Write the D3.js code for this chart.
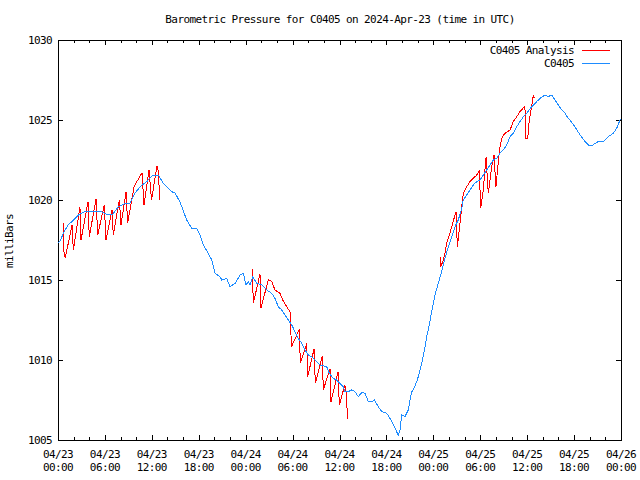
<!DOCTYPE html>
<html>
<head>
<meta charset="utf-8">
<script src="https://cdn.jsdelivr.net/npm/d3@7"></script>
<style>
  html, body { margin: 0; padding: 0; background: #fff; }
  svg { display: block; }
  text { font-family: "DejaVu Sans Mono", "Liberation Mono", monospace; font-size: 11px; letter-spacing: -0.6px; fill: #000; }
</style>
</head>
<body>
<svg id="chart" width="640" height="480"></svg>
<script>
// ---- data (hours after 2024-04-23 00:00 UTC, pressure in mb) ----
const titleText = "Barometric Pressure for C0405 on 2024-Apr-23 (time in UTC)";
const yLabel = "milliBars";
const seriesNames = ["C0405 Analysis", "C0405"];
const yTickValues = [1005, 1010, 1015, 1020, 1025, 1030];

const blueHours = [0.06,0.26,0.77,1.28,1.75,2.60,3.33,4.09,5.59,6.43,7.03,7.71,8.57,9.21,9.85,10.49,11.34,12.02,12.41,12.83,13.47,14.54,14.96,15.60,16.46,17.10,17.74,18.16,18.58,19.22,19.66,20.08,20.72,20.94,21.58,22.00,22.64,23.28,23.70,24.04,24.34,24.55,24.90,25.41,26.05,26.69,27.33,27.75,28.17,28.61,29.03,29.45,29.89,30.31,30.73,31.17,31.59,32.01,32.45,33.09,33.51,34.36,34.70,35.21,35.64,36.07,36.49,36.70,37.13,37.56,37.98,38.40,38.84,39.26,39.68,40.12,40.45,40.96,41.40,42.04,42.46,42.68,43.10,43.52,43.74,43.96,44.38,44.80,45.02,45.23,45.44,45.87,46.08,46.30,46.51,46.72,46.94,47.15,47.36,47.83,48.21,48.76,49.07,49.49,49.92,50.35,50.77,51.19,51.63,51.83,52.27,52.69,53.11,53.55,53.97,54.39,54.83,55.25,55.67,56.10,56.53,56.95,57.38,57.81,58.23,58.66,59.08,59.51,59.94,60.58,61.22,61.64,62.28,62.70,63.14,63.56,63.98,64.42,64.84,65.26,65.47,66.12,66.76,67.40,67.82,68.25,68.68,69.10,69.74,70.38,71.02,71.45,71.87,72.0];
const bluePressure = [1017.31,1017.44,1018.00,1018.44,1018.64,1019.06,1019.25,1019.27,1019.27,1019.06,1019.13,1019.58,1019.79,1019.79,1020.42,1020.83,1021.14,1021.50,1021.56,1021.56,1021.04,1020.52,1020.44,1019.88,1018.75,1018.23,1018.23,1017.81,1017.19,1016.67,1016.25,1015.42,1015.21,1015.00,1015.10,1014.58,1014.79,1015.31,1015.42,1014.69,1014.90,1014.69,1015.21,1014.79,1014.69,1014.38,1014.17,1013.85,1013.33,1013.13,1012.81,1012.50,1012.19,1011.77,1011.35,1011.04,1010.63,1010.31,1010.21,1009.90,1009.69,1009.58,1009.17,1008.85,1008.75,1008.54,1008.33,1008.02,1008.02,1008.13,1008.02,1007.71,1007.96,1007.92,1007.40,1007.40,1007.50,1007.08,1006.77,1006.67,1006.35,1006.15,1005.73,1005.31,1005.63,1006.56,1006.46,1006.88,1007.50,1008.02,1008.13,1008.65,1008.96,1009.38,1009.79,1010.31,1010.83,1011.46,1011.88,1013.13,1014.06,1015.00,1015.52,1016.35,1017.08,1017.71,1018.33,1018.75,1019.48,1020.00,1020.31,1020.63,1020.94,1021.15,1021.25,1021.56,1021.88,1022.19,1022.50,1022.60,1022.92,1023.13,1023.44,1023.96,1024.17,1024.58,1024.90,1025.20,1025.42,1025.83,1026.15,1026.35,1026.56,1026.46,1026.56,1026.25,1025.94,1025.63,1025.42,1025.10,1025.00,1024.58,1024.06,1023.65,1023.44,1023.38,1023.54,1023.65,1023.65,1023.96,1024.17,1024.48,1025.00,1025.05];

// red analysis: null marks a gap between runs
const redHours = [0.64,0.70,0.93,1.79,1.96,2.81,2.94,3.84,4.00,4.86,5.08,5.92,6.14,6.91,7.07,7.84,8.06,8.70,8.91,9.72,9.98,10.74,11.00,11.64,11.96,12.66,12.79,13.04,
  null,
  24.85,24.98,25.83,25.96,26.90,27.33,27.75,28.39,28.74,29.25,29.67,29.86,30.86,30.99,31.81,31.93,32.74,32.91,33.80,33.93,34.79,34.91,35.81,35.98,36.68,36.92,37.00,
  null,
  48.85,48.94,49.20,49.49,49.71,50.13,50.35,50.77,50.90,51.07,51.41,51.63,51.83,52.27,52.69,53.11,53.55,53.88,54.06,54.39,54.74,55.03,55.47,55.76,56.01,56.31,56.53,56.82,57.17,57.81,58.23,58.66,59.08,59.72,59.76,60.07,60.27,60.58,60.78,60.91];
const redPressure = [1018.56,1016.88,1016.38,1018.44,1016.88,1019.56,1017.50,1019.88,1017.69,1020.06,1017.81,1019.69,1017.50,1019.38,1017.81,1020.00,1018.44,1020.50,1018.56,1020.81,1021.06,1021.69,1019.69,1021.88,1020.00,1022.13,1021.88,1020.00,
  null,
  1015.67,1013.54,1015.38,1013.23,1015.04,1014.90,1014.38,1014.17,1013.75,1013.33,1013.02,1010.83,1011.92,1009.79,1011.04,1008.96,1010.67,1008.54,1010.25,1008.13,1009.46,1007.40,1009.25,1007.19,1008.44,1007.81,1006.29,
  null,
  1016.46,1015.83,1016.14,1016.67,1017.29,1017.92,1018.33,1019.06,1019.27,1017.08,1018.54,1019.58,1020.42,1020.83,1021.15,1021.35,1021.56,1021.81,1019.48,1020.63,1022.67,1020.42,1022.08,1022.79,1020.83,1022.40,1023.33,1023.96,1024.17,1024.38,1024.90,1025.20,1025.52,1025.88,1023.85,1023.85,1025.00,1025.83,1026.56,1026.35];

// ---- layout ----
const W = 640, H = 480;
const mLeft = 58, mRight = 621, mTop = 40, mBottom = 440;
const t0 = Date.UTC(2024, 3, 23, 0, 0);
const t1 = Date.UTC(2024, 3, 26, 0, 0);
const toDate = h => new Date(t0 + h * 3600e3);

const x = d3.scaleUtc().domain([new Date(t0), new Date(t1)]).range([mLeft, mRight]);
const y = d3.scaleLinear().domain([1005, 1030]).range([mBottom, mTop]);

const svg = d3.select("#chart");
svg.append("rect").attr("width", W).attr("height", H).attr("fill", "#fff");

const majorTicks = d3.utcHour.every(6).range(new Date(t0), new Date(t1 + 1));
const minorTicks = d3.utcHour.every(2).range(new Date(t0), new Date(t1 + 1)).filter(d => d.getUTCHours() % 6 !== 0);

function styleAxis(g) {
  g.select(".domain").remove();
  g.selectAll("line").attr("stroke", "#000").attr("shape-rendering", "crispEdges");
}

// bottom / top axes (ticks inward)
svg.append("g").attr("transform", `translate(0,${mBottom})`)
  .call(d3.axisBottom(x).tickValues(majorTicks).tickSize(-5).tickFormat("")).call(styleAxis);
svg.append("g").attr("transform", `translate(0,${mBottom})`)
  .call(d3.axisBottom(x).tickValues(minorTicks).tickSize(-3).tickFormat("")).call(styleAxis);
svg.append("g").attr("transform", `translate(0,${mTop})`)
  .call(d3.axisTop(x).tickValues(majorTicks).tickSize(-5).tickFormat("")).call(styleAxis);
svg.append("g").attr("transform", `translate(0,${mTop})`)
  .call(d3.axisTop(x).tickValues(minorTicks).tickSize(-3).tickFormat("")).call(styleAxis);

// left / right axes
const leftAxis = svg.append("g").attr("transform", `translate(${mLeft},0)`)
  .call(d3.axisLeft(y).tickValues(yTickValues).tickSize(-5).tickPadding(6).tickFormat(d3.format("d"))).call(styleAxis);
leftAxis.attr("font-family", null).attr("font-size", null);
leftAxis.selectAll("text").attr("fill", "#000").attr("dy", "0.35em");
svg.append("g").attr("transform", `translate(${mRight},0)`)
  .call(d3.axisRight(y).tickValues(yTickValues).tickSize(-5).tickFormat("")).call(styleAxis);

// x tick labels (two lines)
const fmtDay = d3.utcFormat("%m/%d"), fmtTime = d3.utcFormat("%H:%M");
const xl = svg.append("g").selectAll("text").data(majorTicks).join("text")
  .attr("text-anchor", "middle")
  .attr("transform", d => `translate(${x(d)},0)`);
xl.append("tspan").attr("x", 0).attr("y", 458).text(d => fmtDay(d));
xl.append("tspan").attr("x", 0).attr("y", 471).text(d => fmtTime(d));

// border
svg.append("rect").attr("x", mLeft).attr("y", mTop).attr("width", mRight - mLeft).attr("height", mBottom - mTop)
  .attr("fill", "none").attr("stroke", "#000").attr("shape-rendering", "crispEdges");

// lines
const blueData = blueHours.map((h, i) => ({ t: toDate(h), v: bluePressure[i] }));
const redData = redHours.map((h, i) => ({ t: h == null ? null : toDate(h), v: redPressure[i] }));
const line = d3.line().defined(d => d.t != null && d.v != null).x(d => x(d.t)).y(d => y(d.v));

svg.append("path").datum(redData).attr("d", line).attr("fill", "none").attr("stroke", "#ff0000")
  .attr("stroke-width", 1).attr("shape-rendering", "crispEdges");
svg.append("path").datum(blueData).attr("d", line).attr("fill", "none").attr("stroke", "#1e8cff")
  .attr("stroke-width", 1).attr("shape-rendering", "crispEdges");

// title
svg.append("text").attr("x", 340).attr("y", 23).attr("text-anchor", "middle").text(titleText);

// y label
svg.append("text").attr("transform", `translate(13,241) rotate(-90)`).attr("text-anchor", "middle").text(yLabel);

// legend
const legColors = ["#ff0000", "#1e8cff"];
seriesNames.forEach((name, i) => {
  const ly = 50 + i * 13;
  svg.append("text").attr("x", 574).attr("y", ly).attr("dy", "0.35em").attr("text-anchor", "end").text(name);
  svg.append("line").attr("x1", 582).attr("x2", 610).attr("y1", ly + 0.5).attr("y2", ly + 0.5)
    .attr("stroke", legColors[i]).attr("stroke-width", 1).attr("shape-rendering", "crispEdges");
});
</script>
</body>
</html>
